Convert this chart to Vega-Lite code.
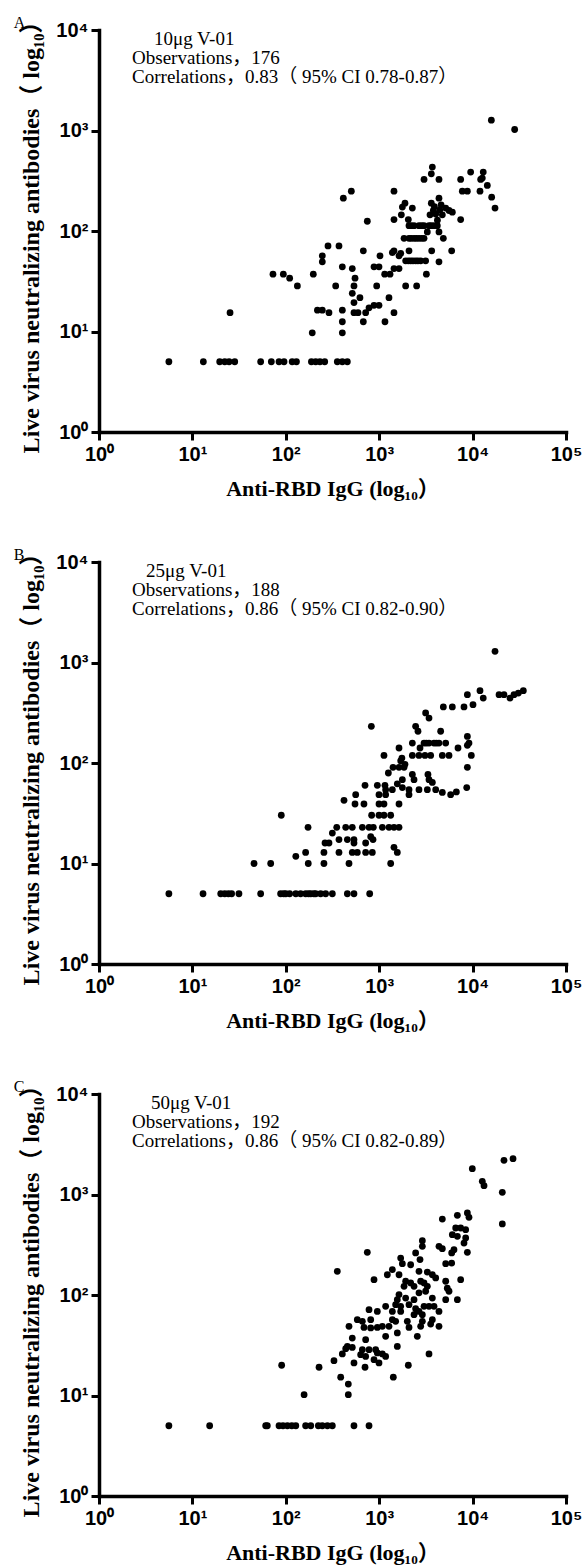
{
  "$schema": "https://vega.github.io/schema/vega-lite/v6.json",
  "background": "white",
  "padding": {"left": 13, "top": 9, "right": 5, "bottom": 2},
  "spacing": 130,
  "bounds": "flush",
  "config": {
    "view": {"stroke": null},
    "axis": {
      "grid": false,
      "domainColor": "black", "domainWidth": 3.5, "domainCap": "square",
      "tickColor": "black", "tickWidth": 3, "tickSize": 8,
      "labelFont": "Liberation Sans", "labelFontWeight": "bold", "labelFontSize": 20, "labelColor": "black",
      "titleFont": "Liberation Serif, Noto Sans CJK SC", "titleFontWeight": "bold", "titleFontSize": 22, "titleColor": "black",
      "labelOverlap": false, "labelFlush": false
    },
    "text": {"font": "Liberation Serif, Noto Sans CJK SC", "fontSize": 19, "color": "black", "align": "left", "baseline": "top", "lineHeight": 19},
    "title": {"font": "Liberation Serif", "fontSize": 16, "fontWeight": "normal", "anchor": "start", "color": "black", "frame": "bounds", "offset": 2}
  },
  "datasets": {
    "a": [
      {"igg":15880,"nab":1268},{"igg":28200,"nab":1023},
      {"igg":3707,"nab":433},{"igg":3614,"nab":371},{"igg":3020,"nab":326},{"igg":4366,"nab":326},{"igg":9530,"nab":386},{"igg":13000,"nab":386},{"igg":7450,"nab":326},{"igg":12200,"nab":326},{"igg":12700,"nab":336},{"igg":14380,"nab":284},{"igg":7762,"nab":249},{"igg":8790,"nab":249},{"igg":12000,"nab":249},{"igg":16000,"nab":217},{"igg":17380,"nab":169},{"igg":1440,"nab":249},{"igg":503,"nab":249},{"igg":413,"nab":212},
      {"igg":4366,"nab":212},{"igg":3614,"nab":189},{"igg":1888,"nab":189},{"igg":1770,"nab":173},{"igg":2264,"nab":169},{"igg":5152,"nab":169},{"igg":5590,"nab":160},{"igg":6067,"nab":154},{"igg":1726,"nab":145},{"igg":3500,"nab":145},{"igg":4027,"nab":148},{"igg":4742,"nab":145},{"igg":7450,"nab":130},{"igg":1440,"nab":130},{"igg":746,"nab":125},{"igg":2050,"nab":130},
      {"igg":3900,"nab":175},{"igg":4600,"nab":182},{"igg":4200,"nab":128},{"igg":3800,"nab":160},{"igg":4450,"nab":162},
      {"igg":2085,"nab":113},{"igg":2200,"nab":113},{"igg":2360,"nab":113},{"igg":2667,"nab":113},{"igg":2850,"nab":113},{"igg":3020,"nab":113},{"igg":3414,"nab":113},{"igg":3600,"nab":113},{"igg":3864,"nab":113},{"igg":4190,"nab":113},{"igg":4366,"nab":98},{"igg":3275,"nab":98},
      {"igg":1845,"nab":84.5},{"igg":2085,"nab":84.5},{"igg":2200,"nab":84.5},{"igg":2360,"nab":84.5},{"igg":2500,"nab":84.5},{"igg":2667,"nab":84.5},{"igg":2850,"nab":84.5},{"igg":3020,"nab":84.5},{"igg":4861,"nab":84.5},
      {"igg":5970,"nab":63.5},{"igg":283,"nab":71},{"igg":371,"nab":71},{"igg":676,"nab":63.5},{"igg":1440,"nab":63.5},{"igg":1383,"nab":61},{"igg":2085,"nab":63.5},{"igg":3648,"nab":63.5},{"igg":1700,"nab":60},
      {"igg":246,"nab":56.6},{"igg":246,"nab":49.3},{"igg":1020,"nab":56.6},{"igg":1630,"nab":56.6},{"igg":1920,"nab":50.5},{"igg":2050,"nab":50.5},{"igg":2172,"nab":50.5},{"igg":2300,"nab":50.5},{"igg":2455,"nab":50.5},{"igg":2600,"nab":50.5},{"igg":2780,"nab":50.5},{"igg":3142,"nab":50.5},{"igg":4366,"nab":49.3},
      {"igg":403,"nab":44},{"igg":515,"nab":42.3},{"igg":880,"nab":44},{"igg":995,"nab":44},{"igg":1630,"nab":42.3},{"igg":1440,"nab":42.3},{"igg":1145,"nab":37.2},{"igg":1306,"nab":37.2},{"igg":3200,"nab":37.2},{"igg":197,"nab":37.2},{"igg":72.9,"nab":37.2},{"igg":94.1,"nab":37.2},{"igg":110,"nab":33.9},{"igg":551,"nab":33.9},
      {"igg":133,"nab":28.4},{"igg":342,"nab":28.4},{"igg":537,"nab":28.4},{"igg":940,"nab":28.4},{"igg":1920,"nab":28.4},{"igg":2518,"nab":28.4},
      {"igg":515,"nab":24},{"igg":622,"nab":21.7},{"igg":1273,"nab":21.7},{"igg":537,"nab":19.4},{"igg":880,"nab":18.2},{"igg":995,"nab":18.2},{"igg":778,"nab":17.2},{"igg":218,"nab":16.3},{"igg":246,"nab":16.3},{"igg":290,"nab":15.4},{"igg":403,"nab":16.3},{"igg":537,"nab":15.4},{"igg":593,"nab":15.4},{"igg":716,"nab":15.4},{"igg":1440,"nab":15.4},{"igg":25.3,"nab":15.4},
      {"igg":403,"nab":12.5},{"igg":676,"nab":12.5},{"igg":1153,"nab":12.5},{"igg":192,"nab":9.7},{"igg":403,"nab":9.7},
      {"igg":5.6,"nab":5},{"igg":13.1,"nab":5},{"igg":19.6,"nab":5},{"igg":22.2,"nab":5},{"igg":24.7,"nab":5},{"igg":28.4,"nab":5},{"igg":53.8,"nab":5},{"igg":70,"nab":5},{"igg":84.6,"nab":5},{"igg":95.7,"nab":5},{"igg":117,"nab":5},{"igg":130,"nab":5},{"igg":188,"nab":5},{"igg":209,"nab":5},{"igg":232,"nab":5},{"igg":261,"nab":5},{"igg":356,"nab":5},{"igg":403,"nab":5},{"igg":456,"nab":5}
    ],
    "b": [
      {"igg":17380,"nab":1292},
      {"igg":12000,"nab":524},{"igg":8790,"nab":478},{"igg":13000,"nab":443},{"igg":10100,"nab":380},{"igg":8090,"nab":361},{"igg":6067,"nab":361},{"igg":4861,"nab":361},{"igg":19190,"nab":478},{"igg":21680,"nab":478},{"igg":25140,"nab":443},{"igg":27750,"nab":478},{"igg":30900,"nab":497},{"igg":34930,"nab":524},
      {"igg":3142,"nab":315},{"igg":3414,"nab":280},
      {"igg":824,"nab":232},{"igg":2455,"nab":232},{"igg":2602,"nab":207},{"igg":4550,"nab":207},
      {"igg":8790,"nab":184},{"igg":9150,"nab":158},{"igg":8790,"nab":150},
      {"igg":2264,"nab":158},{"igg":3020,"nab":158},{"igg":3200,"nab":158},{"igg":3414,"nab":158},{"igg":3864,"nab":158},{"igg":4100,"nab":158},{"igg":4366,"nab":158},{"igg":5152,"nab":158},
      {"igg":1630,"nab":141},{"igg":2735,"nab":141},{"igg":6980,"nab":141},
      {"igg":1125,"nab":119},{"igg":2264,"nab":119},{"igg":2667,"nab":119},{"igg":3090,"nab":119},{"igg":3556,"nab":119},{"igg":4742,"nab":119},{"igg":5590,"nab":119},{"igg":9690,"nab":119},
      {"igg":1698,"nab":105},{"igg":1888,"nab":97},{"igg":1750,"nab":112},
      {"igg":1406,"nab":90.6},{"igg":1630,"nab":90.6},{"igg":1845,"nab":90.6},{"igg":8790,"nab":90.6},
      {"igg":1253,"nab":79.5},{"igg":2264,"nab":77},{"igg":3327,"nab":77},
      {"igg":1770,"nab":68.2},{"igg":2360,"nab":68.2},{"igg":3414,"nab":68.2},{"igg":3707,"nab":64},
      {"igg":705,"nab":60},{"igg":955,"nab":60},{"igg":1153,"nab":60},{"igg":1563,"nab":62},
      {"igg":1172,"nab":54.3},{"igg":1383,"nab":54.3},{"igg":1770,"nab":57},{"igg":2085,"nab":54.3},
      {"igg":2667,"nab":54.3},{"igg":3275,"nab":54.3},{"igg":4027,"nab":54.3},{"igg":4742,"nab":51},{"igg":5820,"nab":48.4},{"igg":6700,"nab":51.5},{"igg":8650,"nab":57},
      {"igg":995,"nab":48.4},{"igg":1172,"nab":48.4},{"igg":2085,"nab":48.4},
      {"igg":560,"nab":48.4},{"igg":420,"nab":42.5},{"igg":551,"nab":39.1},{"igg":687,"nab":39.1},
      {"igg":995,"nab":39.1},{"igg":1125,"nab":39.1},{"igg":1630,"nab":39.1},
      {"igg":830,"nab":30.2},{"igg":995,"nab":30.2},{"igg":1125,"nab":30.2},{"igg":1327,"nab":30.2},
      {"igg":89.5,"nab":30.2},
      {"igg":173,"nab":22.9},{"igg":351,"nab":22.9},{"igg":438,"nab":22.9},{"igg":515,"nab":22.9},{"igg":660,"nab":22.9},{"igg":778,"nab":22.9},{"igg":865,"nab":22.9},{"igg":1081,"nab":22.9},{"igg":1273,"nab":22.9},{"igg":1440,"nab":22.9},{"igg":1630,"nab":22.9},
      {"igg":315,"nab":20.1},
      {"igg":371,"nab":17.3},{"igg":456,"nab":17.3},{"igg":537,"nab":17.3},{"igg":859,"nab":17.3},{"igg":811,"nab":18.5},
      {"igg":263,"nab":16},{"igg":290,"nab":16},{"igg":537,"nab":16},{"igg":716,"nab":16},
      {"igg":1440,"nab":14.5},{"igg":1563,"nab":12.9},
      {"igg":163,"nab":12.9},{"igg":256,"nab":12.9},{"igg":371,"nab":12.9},{"igg":515,"nab":12.9},{"igg":583,"nab":12.9},{"igg":716,"nab":12.9},{"igg":844,"nab":12.9},
      {"igg":128,"nab":11.8},
      {"igg":45.7,"nab":10},{"igg":68.9,"nab":10},{"igg":174,"nab":10},{"igg":256,"nab":10},{"igg":475,"nab":10},{"igg":1327,"nab":10},
      {"igg":5.6,"nab":5},{"igg":13,"nab":5},{"igg":20.1,"nab":5},{"igg":22.2,"nab":5},{"igg":24.3,"nab":5},{"igg":26.3,"nab":5},{"igg":31.5,"nab":5},{"igg":53.8,"nab":5},{"igg":88,"nab":5},{"igg":95,"nab":5},{"igg":100,"nab":5},{"igg":110,"nab":5},{"igg":128,"nab":5},{"igg":144,"nab":5},{"igg":163,"nab":5},{"igg":175,"nab":5},{"igg":185,"nab":5},{"igg":200,"nab":5},{"igg":209,"nab":5},{"igg":236,"nab":5},{"igg":267,"nab":5},{"igg":315,"nab":5},{"igg":456,"nab":5},{"igg":537,"nab":5},{"igg":791,"nab":5}
    ],
    "c": [
      {"igg":21680,"nab":2188},{"igg":27100,"nab":2274},
      {"igg":9930,"nab":1806},
      {"igg":12700,"nab":1353},{"igg":13250,"nab":1224},
      {"igg":20800,"nab":1052},
      {"igg":20800,"nab":509},
      {"igg":4742,"nab":570},{"igg":6870,"nab":621},{"igg":8790,"nab":655},{"igg":9150,"nab":593},
      {"igg":6590,"nab":464},{"igg":7450,"nab":464},{"igg":8430,"nab":447},{"igg":6067,"nab":398},{"igg":6870,"nab":384},{"igg":8430,"nab":369},{"igg":8090,"nab":329},
      {"igg":2897,"nab":347},{"igg":2897,"nab":305},{"igg":4366,"nab":305},{"igg":4742,"nab":289},
      {"igg":6320,"nab":282},{"igg":5970,"nab":262},{"igg":8790,"nab":266},
      {"igg":746,"nab":266},
      {"igg":2455,"nab":262},{"igg":2735,"nab":225},
      {"igg":1698,"nab":233},{"igg":1770,"nab":205},{"igg":2172,"nab":200},
      {"igg":5152,"nab":205},{"igg":5970,"nab":208},
      {"igg":356,"nab":172},
      {"igg":1383,"nab":179},{"igg":1222,"nab":159},{"igg":1630,"nab":159},
      {"igg":2667,"nab":172},{"igg":3275,"nab":169},{"igg":3707,"nab":159},{"igg":4027,"nab":148},
      {"igg":880,"nab":142},
      {"igg":1920,"nab":137},{"igg":2172,"nab":132},{"igg":1845,"nab":122},{"igg":2360,"nab":122},
      {"igg":2780,"nab":137},{"igg":3020,"nab":132},{"igg":3275,"nab":122},{"igg":3142,"nab":109},
      {"igg":5152,"nab":137},{"igg":5360,"nab":117},{"igg":5590,"nab":109},
      {"igg":7450,"nab":142},
      {"igg":1630,"nab":101},{"igg":1563,"nab":89.8},{"igg":1920,"nab":93.3},{"igg":2360,"nab":89.8},
      {"igg":2667,"nab":105},{"igg":3707,"nab":93.3},{"igg":5152,"nab":89.8},{"igg":6870,"nab":89.8},
      {"igg":1172,"nab":77.1},{"igg":1500,"nab":80.1},{"igg":1698,"nab":77.1},{"igg":2085,"nab":80.1},{"igg":2455,"nab":73.1},
      {"igg":3020,"nab":77.1},{"igg":3414,"nab":77.1},{"igg":3864,"nab":77.1},
      {"igg":955,"nab":68.7},{"igg":778,"nab":71.4},{"igg":1383,"nab":68.7},{"igg":1698,"nab":68.7},{"igg":4366,"nab":68.7},
      {"igg":2667,"nab":68.7},{"igg":2897,"nab":63.7},{"igg":2360,"nab":63.7},
      {"igg":583,"nab":56.8},{"igg":660,"nab":54.7},{"igg":811,"nab":56.8},
      {"igg":1383,"nab":56.8},{"igg":1500,"nab":54.7},
      {"igg":2000,"nab":54.7},{"igg":2897,"nab":54.7},{"igg":3707,"nab":56.8},{"igg":4366,"nab":48.8},{"igg":3556,"nab":51.4},
      {"igg":475,"nab":48.8},{"igg":687,"nab":47.6},{"igg":811,"nab":47},{"igg":955,"nab":47.6},{"igg":1081,"nab":48.8},
      {"igg":2085,"nab":47.6},{"igg":2780,"nab":48.8},
      {"igg":1273,"nab":48.8},
      {"igg":1563,"nab":41.9},{"igg":1172,"nab":38.8},{"igg":2559,"nab":38.8},
      {"igg":515,"nab":37.3},{"igg":716,"nab":35.9},
      {"igg":456,"nab":30.8},{"igg":515,"nab":30.1},{"igg":438,"nab":29.2},{"igg":660,"nab":28.6},{"igg":778,"nab":28.6},{"igg":916,"nab":28.6},
      {"igg":1563,"nab":30.8},
      {"igg":403,"nab":25.9},{"igg":633,"nab":25.5},{"igg":716,"nab":24.5},{"igg":955,"nab":26.5},{"igg":1172,"nab":24.5},{"igg":1081,"nab":25.9},
      {"igg":3414,"nab":25.9},
      {"igg":328,"nab":22.2},{"igg":537,"nab":21.1},{"igg":705,"nab":19.1},{"igg":880,"nab":22.7},{"igg":995,"nab":21.1},
      {"igg":2050,"nab":20},
      {"igg":90.3,"nab":20},{"igg":227,"nab":19.1},
      {"igg":387,"nab":15.2},{"igg":467,"nab":13},{"igg":1416,"nab":15.2},
      {"igg":157,"nab":10.2},{"igg":467,"nab":10.2},
      {"igg":5.6,"nab":5},{"igg":15.3,"nab":5},{"igg":60.9,"nab":5},{"igg":63.4,"nab":5},{"igg":84.6,"nab":5},{"igg":93.3,"nab":5},{"igg":104,"nab":5},{"igg":116,"nab":5},{"igg":128,"nab":5},{"igg":163,"nab":5},{"igg":185,"nab":5},{"igg":223,"nab":5},{"igg":246,"nab":5},{"igg":279,"nab":5},{"igg":315,"nab":5},{"igg":537,"nab":5},{"igg":778,"nab":5}
    ]
  },
  "vconcat": [
    {
      "title": {"text": "A", "dx": -6, "dy": 24},
      "width": 467, "height": 402,
      "layer": [
        {
          "data": {"name": "a"},
          "mark": {"type": "circle", "size": 46, "color": "black", "opacity": 1},
          "encoding": {
            "x": {"field": "igg", "type": "quantitative", "scale": {"type": "log", "domain": [1, 100000], "nice": false},
                  "axis": {"title": "Anti-RBD IgG (log₁₀）", "values": [1,10,100,1000,10000,100000], "labelExpr": "'10' + ['⁰','¹','²','³','⁴','⁵'][round(log(datum.value)/LN10)]", "labelPadding": 4, "titlePadding": 14}},
            "y": {"field": "nab", "type": "quantitative", "scale": {"type": "log", "domain": [1, 10000], "nice": false},
                  "axis": {"title": "Live virus neutralizing antibodies（ log₁₀）", "titleFontSize": 24, "values": [1,10,100,1000,10000], "labelExpr": "'10' + ['⁰','¹','²','³','⁴','⁵'][round(log(datum.value)/LN10)]", "labelPadding": 3, "titlePadding": 12}}
          }
        },
        {
          "data": {"values": [{}]},
          "mark": {"type": "text", "text": "10μg V-01"},
          "encoding": {"x": {"datum": 3.88}, "y": {"datum": 10000}}
        },
        {
          "data": {"values": [{}]},
          "mark": {"type": "text", "text": ["Observations，176", "Correlations，0.83（ 95% CI 0.78-0.87）"]},
          "encoding": {"x": {"datum": 2.26}, "y": {"datum": 6470}}
        }
      ]
    },
    {
      "title": {"text": "B", "dx": -6, "dy": 24},
      "width": 467, "height": 402,
      "layer": [
        {
          "data": {"name": "b"},
          "mark": {"type": "circle", "size": 46, "color": "black", "opacity": 1},
          "encoding": {
            "x": {"field": "igg", "type": "quantitative", "scale": {"type": "log", "domain": [1, 100000], "nice": false},
                  "axis": {"title": "Anti-RBD IgG (log₁₀）", "values": [1,10,100,1000,10000,100000], "labelExpr": "'10' + ['⁰','¹','²','³','⁴','⁵'][round(log(datum.value)/LN10)]", "labelPadding": 4, "titlePadding": 14}},
            "y": {"field": "nab", "type": "quantitative", "scale": {"type": "log", "domain": [1, 10000], "nice": false},
                  "axis": {"title": "Live virus neutralizing antibodies（ log₁₀）", "titleFontSize": 24, "values": [1,10,100,1000,10000], "labelExpr": "'10' + ['⁰','¹','²','³','⁴','⁵'][round(log(datum.value)/LN10)]", "labelPadding": 3, "titlePadding": 12}}
          }
        },
        {
          "data": {"values": [{}]},
          "mark": {"type": "text", "text": "25μg V-01"},
          "encoding": {"x": {"datum": 3.19}, "y": {"datum": 10000}}
        },
        {
          "data": {"values": [{}]},
          "mark": {"type": "text", "text": ["Observations，188", "Correlations，0.86（ 95% CI 0.82-0.90）"]},
          "encoding": {"x": {"datum": 2.26}, "y": {"datum": 6470}}
        }
      ]
    },
    {
      "title": {"text": "C", "dx": -6, "dy": 24},
      "width": 467, "height": 402,
      "layer": [
        {
          "data": {"name": "c"},
          "mark": {"type": "circle", "size": 46, "color": "black", "opacity": 1},
          "encoding": {
            "x": {"field": "igg", "type": "quantitative", "scale": {"type": "log", "domain": [1, 100000], "nice": false},
                  "axis": {"title": "Anti-RBD IgG (log₁₀）", "values": [1,10,100,1000,10000,100000], "labelExpr": "'10' + ['⁰','¹','²','³','⁴','⁵'][round(log(datum.value)/LN10)]", "labelPadding": 4, "titlePadding": 14}},
            "y": {"field": "nab", "type": "quantitative", "scale": {"type": "log", "domain": [1, 10000], "nice": false},
                  "axis": {"title": "Live virus neutralizing antibodies（ log₁₀）", "titleFontSize": 24, "values": [1,10,100,1000,10000], "labelExpr": "'10' + ['⁰','¹','²','³','⁴','⁵'][round(log(datum.value)/LN10)]", "labelPadding": 3, "titlePadding": 12}}
          }
        },
        {
          "data": {"values": [{}]},
          "mark": {"type": "text", "text": "50μg V-01"},
          "encoding": {"x": {"datum": 3.6}, "y": {"datum": 10000}}
        },
        {
          "data": {"values": [{}]},
          "mark": {"type": "text", "text": ["Observations，192", "Correlations，0.86（ 95% CI 0.82-0.89）"]},
          "encoding": {"x": {"datum": 2.26}, "y": {"datum": 6470}}
        }
      ]
    }
  ]
}
